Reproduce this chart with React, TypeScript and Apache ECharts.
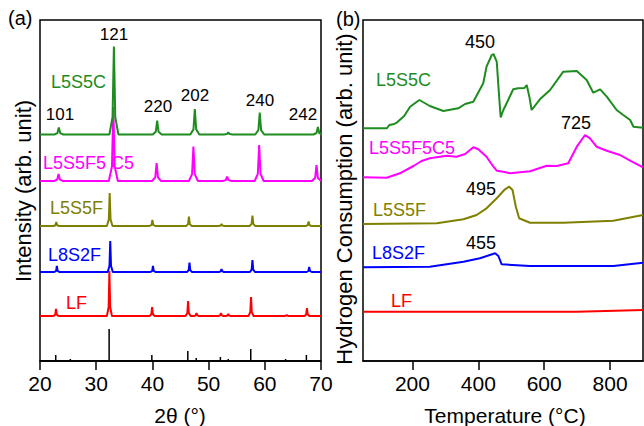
import React, { useEffect, useRef } from "react";
import * as echarts from "echarts";

// ---------- (a) XRD patterns: [2θ, intensity] (arb., stacked) ----------
const refSticks = [
  [22.8, 6], [25.4, 2], [32.3, 32], [39.9, 6], [46.3, 10], [47.8, 3],
  [52.1, 4], [53.5, 2], [57.5, 12], [63.7, 2], [67.4, 6],
];
const lfBase = 45;
const lfPeaks = [
  [22.85, 52], [32.35, 90], [39.95, 54], [46.35, 60], [47.85, 48],
  [52.2, 48], [53.5, 47], [57.55, 64], [63.9, 46], [67.5, 53],
];
const l8s2fBase = 89;
const l8s2fPeaks = [
  [23.0, 95], [32.5, 120], [40.1, 95], [46.6, 98.5], [52.3, 92], [57.8, 101], [67.9, 94],
];
const l5s5fBase = 135;
const l5s5fPeaks = [
  [22.9, 139], [32.4, 168], [40.0, 141], [46.5, 144.5], [52.3, 137], [57.8, 145.5], [67.8, 139.5],
];
const l5s5f5c5Base = 180;
const l5s5f5c5Peaks = [
  [23.3, 187], [33.05, 254], [40.75, 198], [47.3, 214.5], [53.3, 184.5], [59.0, 216], [69.2, 196],
];
const l5s5cBase = 226.5;
const l5s5cPeaks = [
  [23.35, 233.5], [33.15, 314.5], [40.85, 240.5], [47.55, 252], [53.5, 228.5], [59.1, 248.5], [69.45, 234],
];
const hklLabels = ["101", "121", "220", "202", "240", "242"];

// ---------- (b) H2-TPR profiles: [T (°C), signal] (arb., stacked) ----------
const tprL5S5C = [
  [50, 232.7], [122, 232.7], [130, 236], [145, 237], [152, 238.3], [175, 245], [193, 254.3],
  [221, 261], [253, 255], [294, 250], [339, 252.7], [360, 257], [385, 259.3], [415, 277.7],
  [425, 294.3], [441, 306], [446, 307], [456, 299.3], [464, 261], [468, 243.7], [476, 251],
  [481, 254.3], [506, 271.7], [521, 272.7], [540, 273], [547, 276], [555, 264.3], [562, 251],
  [587, 261.7], [618, 271], [658, 289.3], [699, 290], [729, 281], [749, 268.3], [770, 271.7],
  [790, 264.3], [820, 251], [840, 246], [861, 241], [871, 234.3], [900, 233.3],
];
const tprL5S5F5C5 = [
  [50, 183.7], [122, 183.3], [162, 187.7], [203, 195], [228, 200], [253, 202.7], [304, 205.3],
  [334, 204.3], [360, 207], [385, 213.7], [400, 211.7], [425, 204.3], [446, 194.3], [456, 190.3],
  [476, 189.3], [496, 187.7], [557, 189.7], [608, 195.3], [638, 195], [673, 197.7], [699, 214.3],
  [724, 226], [739, 222.7], [759, 214.3], [790, 210.3], [830, 206], [861, 200.3], [900, 193.7],
];
const tprL5S5F = [
  [50, 137], [274, 137.7], [355, 141.7], [395, 146], [425, 152.7], [456, 162.7], [481, 171.7],
  [494, 174.3], [504, 171], [514, 154.3], [524, 142.7], [557, 138.3], [658, 138.3], [810, 140.3],
  [900, 146],
];
const tprL8S2F = [
  [50, 93.7], [253, 94.3], [355, 99.3], [405, 102.7], [451, 107.7], [461, 105], [471, 96.7],
  [557, 95], [810, 95], [900, 98.3],
];
const tprLF = [[50, 49.3], [700, 49.3], [900, 51]];
const tprPeakLabels = ["450", "725", "495", "455"];
const tempTicks = [200, 400, 600, 800];

const GREEN = "#1e8c1e";
const MAGENTA = "#ff00ff";
const OLIVE = "#808000";
const BLUE = "#0000ff";
const RED = "#ff0000";
const FONT = "Liberation Sans, Arial, sans-serif";

function buildPattern(base: number, peaks: number[][], half: number) {
  const pts: number[][] = [[20, base]];
  for (const [p, top] of peaks) {
    const s = base + (top - base) * 0.2;
    pts.push([p - half, base], [p - half * 0.3, s], [p, top], [p + half * 0.3, s], [p + half, base]);
  }
  pts.push([70, base]);
  return pts;
}
function buildSticks(sticks: number[][]) {
  const pts: number[][] = [[20, 0]];
  for (const [p, h] of sticks) pts.push([p, 0], [p, h], [p, 0]);
  pts.push([70, 0]);
  return pts;
}

function txt(text: string, x: number, y: number, fill: string, size: number, align = "left") {
  return {
    type: "text",
    x,
    y,
    style: { text, fill, fontSize: size, fontFamily: FONT, align, verticalAlign: "middle" },
    z: 100,
  };
}

export default function App() {
  const ref = useRef<HTMLDivElement>(null);
  useEffect(() => {
    if (!ref.current) return;
    const chart = echarts.init(ref.current, undefined, { renderer: "svg" });
    const line = (data: number[][], color: string, xi: number, w = 2) => ({
      type: "line",
      xAxisIndex: xi,
      yAxisIndex: xi,
      data,
      showSymbol: false,
      symbol: "none",
      lineStyle: { color, width: w },
      itemStyle: { color },
      z: 3,
    });
    const yAx = (gi: number) => ({
      type: "value",
      gridIndex: gi,
      min: 0,
      max: 341,
      axisLine: { show: false },
      axisTick: { show: false },
      axisLabel: { show: false },
      splitLine: { show: false },
    });
    const axisCommon = {
      axisLine: { show: true, lineStyle: { color: "#000", width: 1.5 } },
      axisTick: { show: true, inside: false, length: 9, lineStyle: { color: "#000", width: 1.5 } },
      axisLabel: { color: "#000", fontSize: 21, fontFamily: FONT, margin: 12 },
      splitLine: { show: false },
    };
    chart.setOption({
      animation: false,
      grid: [
        { left: 40, top: 20, width: 281, height: 341, show: true, borderColor: "#000", borderWidth: 1.5, backgroundColor: "transparent" },
        { left: 363, top: 20, width: 280, height: 341, show: true, borderColor: "#000", borderWidth: 1.5, backgroundColor: "transparent" },
      ],
      xAxis: [
        { type: "value", gridIndex: 0, min: 20, max: 70, interval: 10, ...axisCommon },
        {
          type: "value",
          gridIndex: 1,
          min: 50,
          max: 900,
          ...axisCommon,
          axisTick: { ...axisCommon.axisTick, customValues: tempTicks },
          axisLabel: { ...axisCommon.axisLabel, customValues: tempTicks },
        },
      ],
      yAxis: [yAx(0), yAx(1)],
      series: [
        line(buildSticks(refSticks), "#000", 0, 1.5),
        line(buildPattern(lfBase, lfPeaks, 0.45), RED, 0),
        line(buildPattern(l8s2fBase, l8s2fPeaks, 0.45), BLUE, 0),
        line(buildPattern(l5s5fBase, l5s5fPeaks, 0.5), OLIVE, 0),
        line(buildPattern(l5s5f5c5Base, l5s5f5c5Peaks, 0.8), MAGENTA, 0),
        line(buildPattern(l5s5cBase, l5s5cPeaks, 0.8), GREEN, 0),
        line(tprLF, RED, 1),
        line(tprL8S2F, BLUE, 1),
        line(tprL5S5F, OLIVE, 1),
        line(tprL5S5F5C5, MAGENTA, 1),
        line(tprL5S5C, GREEN, 1),
      ],
      graphic: [
        txt("(a)", 8, 18, "#000", 20),
        txt("(b)", 336, 19, "#000", 20),
        {
          type: "text", x: 23, y: 191, rotation: Math.PI / 2, z: 100,
          style: { text: "Intensity (arb. unit)", fill: "#000", fontSize: 22, fontFamily: FONT, align: "center", verticalAlign: "middle" },
        },
        {
          type: "text", x: 344, y: 199, rotation: Math.PI / 2, z: 100,
          style: { text: "Hydrogen Consumption (arb. unit)", fill: "#000", fontSize: 22, fontFamily: FONT, align: "center", verticalAlign: "middle" },
        },
        txt("2θ (°)", 180, 415, "#000", 21, "center"),
        txt("Temperature (°C)", 505, 415, "#000", 21, "center"),
        // hkl labels
        txt(hklLabels[0], 60, 114.5, "#000", 17, "center"),
        txt(hklLabels[1], 114, 34.5, "#000", 17, "center"),
        txt(hklLabels[2], 158, 106.7, "#000", 17, "center"),
        txt(hklLabels[3], 195, 95.5, "#000", 17, "center"),
        txt(hklLabels[4], 260, 100.5, "#000", 17, "center"),
        txt(hklLabels[5], 303, 114.3, "#000", 17, "center"),
        // sample labels (a)
        txt("L5S5C", 51, 81.7, GREEN, 18),
        txt("L5S5F5 C5", 43, 163.3, MAGENTA, 18),
        txt("L5S5F", 50, 207.5, OLIVE, 18),
        txt("L8S2F", 48, 255, BLUE, 18),
        txt("LF", 66, 303.3, RED, 18),
        // sample labels (b)
        txt("L5S5C", 376, 80, GREEN, 18),
        txt("L5S5F5C5", 369, 147.5, MAGENTA, 18),
        txt("L5S5F", 373, 210, OLIVE, 18),
        txt("L8S2F", 372, 253.3, BLUE, 18),
        txt("LF", 391, 301, RED, 18),
        // TPR peak labels
        txt(tprPeakLabels[0], 480, 42, "#000", 18, "center"),
        txt(tprPeakLabels[1], 576, 123, "#000", 18, "center"),
        txt(tprPeakLabels[2], 481, 189, "#000", 18, "center"),
        txt(tprPeakLabels[3], 481, 243.3, "#000", 18, "center"),
      ],
    });
    return () => chart.dispose();
  }, []);
  return <div ref={ref} style={{ position: "absolute", left: 0, top: 0, width: 644, height: 426 }} />;
}
